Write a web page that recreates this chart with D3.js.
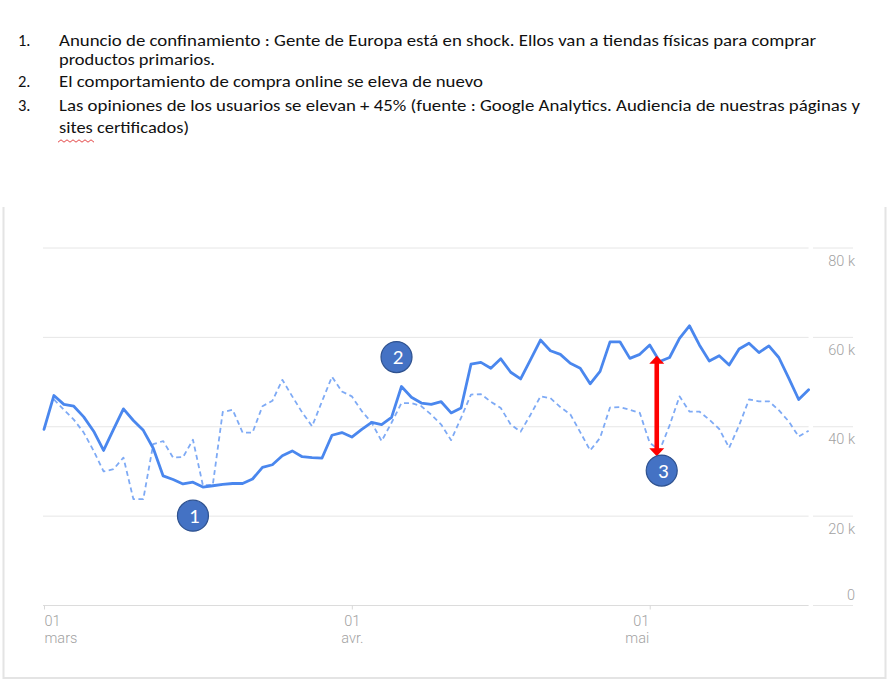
<!DOCTYPE html>
<html>
<head>
<meta charset="utf-8">
<script src="https://cdn.jsdelivr.net/npm/d3@7"></script>
<style>
  html, body { margin: 0; padding: 0; background: #ffffff; }
  svg { display: block; }
</style>
</head>
<body>
<svg id="chart" width="889" height="681"></svg>
<script>
// ---------------- DATA ----------------
const startDate = "2020-03-01";
const endDate = "2020-05-17";
// current period (solid), in thousands
const currentValues = [
  39.4, 47.0, 45.0, 44.6, 42.2, 39.0, 34.7, 39.4, 44.0, 41.4,
  39.2, 35.2, 29.0, 28.2, 27.2, 27.6, 26.5, 26.8, 27.1, 27.3,
  27.3, 28.3, 30.9, 31.5, 33.5, 34.6, 33.3, 33.1, 33.0, 38.1,
  38.7, 37.7, 39.4, 41.0, 40.5, 42.1, 49.0, 46.6, 45.3, 45.0,
  45.6, 43.1, 44.2, 54.0, 54.4, 53.1, 55.2, 52.2, 50.7, 55.0,
  59.4, 57.0, 56.2, 54.2, 53.1, 49.6, 52.4, 59.0, 59.0, 55.3,
  56.2, 58.3, 54.6, 55.5, 59.8, 62.6, 58.3, 54.7, 55.9, 53.8,
  57.4, 58.7, 56.6, 58.1, 55.5, 50.9, 46.1, 48.3
];
// previous period (dashed), in thousands
const previousValues = [
  null, 46.1, 43.8, 41.6, 38.7, 34.6, 30.0, 30.5, 33.1, 23.8,
  23.8, 36.1, 36.8, 33.1, 33.2, 37.1, 26.9, 27.0, 43.3, 43.8,
  38.7, 38.7, 44.6, 45.8, 50.5, 46.8, 43.2, 40.1, 45.7, 51.2,
  47.9, 46.8, 43.5, 40.9, 36.8, 40.9, 45.3, 45.3, 44.6, 42.7,
  40.5, 37.0, 42.0, 47.2, 47.3, 45.6, 44.2, 40.5, 38.9, 42.7,
  46.8, 46.4, 44.4, 42.8, 38.8, 34.7, 37.5, 44.3, 44.4, 43.8,
  43.1, 36.4, 34.7, 40.3, 46.8, 43.4, 43.4, 41.6, 39.5, 35.3,
  40.3, 46.1, 45.7, 45.7, 43.7, 41.2, 37.8, 39.1
];
const yTicks = [0, 20, 40, 60, 80];
const xTickDates = ["2020-03-01", "2020-04-01", "2020-05-01"];
const xTickDay = ["01", "01", "01"];
const xTickMonth = ["mars", "avr.", "mai"];

const notes = [
  { num: "1.", lines: ["Anuncio de confinamiento : Gente de Europa está en shock. Ellos van a tiendas físicas para comprar", "productos primarios."] },
  { num: "2.", lines: ["El comportamiento de compra online se eleva de nuevo"] },
  { num: "3.", lines: ["Las opiniones de los usuarios se elevan + 45% (fuente : Google Analytics. Audiencia de nuestras páginas y", "sites certificados)"] }
];
// annotation markers: label, date, value (k)
const markers = [
  { label: "1", date: "2020-03-16", value: 20.1 },
  { label: "2", date: "2020-04-05T12:00", value: 55.6 },
  { label: "3", date: "2020-05-02T05:00", value: 30.2 }
];
const arrowSpec = { date: "2020-05-01T17:00", from: 55.9, to: 33.4 };

// ---------------- DRAW ----------------
const svg = d3.select("#chart");
const parse = s => new Date(s + (s.length === 10 ? "T00:00" : ""));
const days = d3.timeDay.range(parse(startDate), d3.timeDay.offset(parse(endDate), 1));

const x = d3.scaleTime().domain([parse(startDate), parse(endDate)]).range([44, 808.6]);
const y = d3.scaleLinear().domain([0, 80]).range([605.5, 248]);

// Top text
const textFont = "Carlito, 'Liberation Sans Narrow', 'Liberation Sans', Arial, sans-serif";
const lineBaselines = [[45.5, 64.5], [86.5], [110.5, 132.5]];
const lineWidths = [[757, 156], [424], [801, 130]];
const tg = svg.append("g").attr("font-family", textFont).attr("font-size", 16.5).attr("fill", "#111");
notes.forEach((n, i) => {
  tg.append("text").attr("x", 18).attr("y", lineBaselines[i][0]).text(n.num);
  n.lines.forEach((l, j) => {
    tg.append("text")
      .attr("x", 59).attr("y", lineBaselines[i][j])
      .attr("textLength", lineWidths[i][j])
      .attr("lengthAdjust", "spacingAndGlyphs")
      .text(l);
  });
});
// spell-check squiggle
const sq = [];
for (let i = 0; i <= 12; i++) sq.push([58 + i * 3, 141 + (i % 2 ? -1.2 : 1.2)]);
svg.append("path").attr("d", d3.line()(sq)).attr("fill", "none").attr("stroke", "#e03030").attr("stroke-width", 0.9);

// Card frame
svg.append("path")
  .attr("d", "M3.5,207 L3.5,678 L885.5,678 L885.5,207")
  .attr("fill", "none").attr("stroke", "#e4e4e4").attr("stroke-width", 2);

// Gridlines
const grid = svg.append("g");
yTicks.forEach(t => {
  grid.append("line").attr("x1", 43).attr("x2", 808.6).attr("y1", y(t)).attr("y2", y(t))
    .attr("stroke", t === 0 ? "#dcdcdc" : "#e6e6e6").attr("stroke-width", 1);
  grid.append("line").attr("x1", 813).attr("x2", 853).attr("y1", y(t)).attr("y2", y(t))
    .attr("stroke", "#e6e6e6").attr("stroke-width", 1);
});

const axisFont = "Roboto, sans-serif";
// Y axis labels via d3 axis
const yAxis = d3.axisRight(y).tickValues(yTicks).tickSize(0)
  .tickFormat(d => d === 0 ? "0" : d + " k");
const yG = svg.append("g").attr("transform", "translate(855,0)").call(yAxis);
yG.select(".domain").remove();
yG.selectAll("text")
  .attr("x", 0)
  .attr("text-anchor", "end")
  .attr("dy", null)
  .attr("y", d => d === 0 ? -6 : 17)
  .attr("fill", "#a2a2a2")
  .attr("font-family", axisFont)
  .attr("font-weight", 300)
  .attr("font-size", 14.5);

// X axis via d3 axis
const xDates = xTickDates.map(parse);
const xAxis = d3.axisBottom(x).tickValues(xDates).tickSize(4).tickFormat((d, i) => xTickDay[i]);
const xG = svg.append("g").attr("transform", `translate(0,${y(0)})`).call(xAxis);
xG.select(".domain").remove();
xG.selectAll(".tick line").attr("stroke", "#d8d8d8");
const anchors = ["start", "middle", "end"];
const dxs = [0, 0, -1];
xG.selectAll(".tick text")
  .attr("y", 0).attr("dy", 0)
  .attr("font-family", axisFont).attr("font-weight", 300).attr("font-size", 14.5).attr("fill", "#a2a2a2")
  .attr("text-anchor", (d, i) => anchors[i])
  .each(function (d, i) {
    const t = d3.select(this);
    t.text(null);
    t.append("tspan").attr("x", dxs[i]).attr("y", 20).text(xTickDay[i]);
    t.append("tspan").attr("x", dxs[i]).attr("y", 37).text(xTickMonth[i]);
  });

// Lines
const prevData = days.map((d, i) => ({ d, v: previousValues[i] }));
const curData = days.map((d, i) => ({ d, v: currentValues[i] }));
const lineGen = d3.line().defined(p => p.v != null).x(p => x(p.d)).y(p => y(p.v));

svg.append("path").datum(prevData).attr("d", lineGen)
  .attr("fill", "none").attr("stroke", "#7eaaf5").attr("stroke-width", 1.8)
  .attr("stroke-dasharray", "5,3.5").attr("stroke-linejoin", "round");
svg.append("path").datum(curData).attr("d", lineGen)
  .attr("fill", "none").attr("stroke", "#4a87ee").attr("stroke-width", 2.8)
  .attr("stroke-linejoin", "round").attr("stroke-linecap", "round");

// Red double arrow
const ax = x(parse(arrowSpec.date));
const ay1 = y(arrowSpec.from), ay2 = y(arrowSpec.to);
const hw = 7.5, hl = 8, sw = 2.3;
svg.append("path")
  .attr("d", `M${ax},${ay1} L${ax + hw},${ay1 + hl} L${ax + sw},${ay1 + hl} L${ax + sw},${ay2 - hl} L${ax + hw},${ay2 - hl} L${ax},${ay2} L${ax - hw},${ay2 - hl} L${ax - sw},${ay2 - hl} L${ax - sw},${ay1 + hl} L${ax - hw},${ay1 + hl} Z`)
  .attr("fill", "#ff0000");

// Numbered markers
const mg = svg.selectAll("g.marker").data(markers).join("g").attr("class", "marker")
  .attr("transform", m => `translate(${x(parse(m.date))},${y(m.value)})`);
mg.append("circle").attr("r", 15.5).attr("fill", "#4472c4").attr("stroke", "#2f528f").attr("stroke-width", 1.2);
mg.append("text").attr("x", 1.5).attr("y", 7).attr("text-anchor", "middle")
  .attr("font-family", textFont).attr("font-size", 21).attr("fill", "#ffffff").text(m => m.label);
</script>
</body>
</html>
